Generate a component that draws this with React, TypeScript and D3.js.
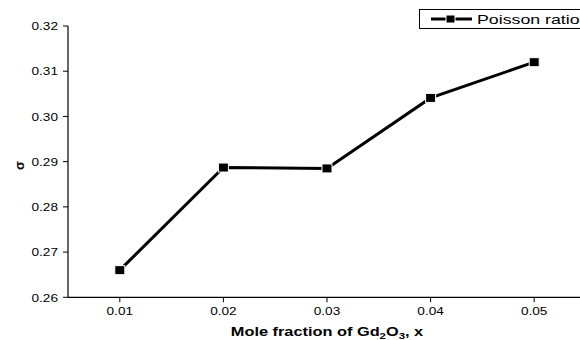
import React from "react";
import * as d3 from "d3";

const moleFractions = [0.01, 0.02, 0.03, 0.04, 0.05];
const poissonRatio = [0.266, 0.2887, 0.2885, 0.3041, 0.312];
const xTicks = [0.01, 0.02, 0.03, 0.04, 0.05];
const yTicks = [0.26, 0.27, 0.28, 0.29, 0.3, 0.31, 0.32];
const seriesName = "Poisson ratio";

const W = 580;
const H = 340;
const FONT = "'Liberation Sans', Arial, sans-serif";

export default function App() {
  const x = d3.scaleLinear().domain([0.005, 0.055]).range([68, 586]);
  const y = d3.scaleLinear().domain([0.26, 0.32]).range([297.3, 26]);
  const pts = moleFractions.map((m, i) => [x(m), y(poissonRatio[i])] as [number, number]);
  const line = d3.line()(pts) || "";
  const mw = 10;
  const mh = 9;
  const fmt = d3.format(".2f");

  return (
    <svg
      width={W}
      height={H}
      style={{ position: "absolute", left: 0, top: 0, background: "#fff" }}
      fontFamily={FONT}
    >
      {/* axes */}
      <line x1={68} x2={68} y1={y(0.32)} y2={y(0.26)} stroke="#000" strokeWidth={1.2} />
      <line x1={68} x2={W} y1={y(0.26)} y2={y(0.26)} stroke="#000" strokeWidth={1.2} />
      {yTicks.map((t) => (
        <g key={"y" + t}>
          <line x1={63} x2={68} y1={y(t)} y2={y(t)} stroke="#000" strokeWidth={1} />
          <text
            x={58}
            y={y(t) + 4.2}
            textAnchor="end"
            fontSize={11}
            fill="#000"
            textLength={26.5}
            lengthAdjust="spacingAndGlyphs"
          >
            {fmt(t)}
          </text>
        </g>
      ))}
      {xTicks.map((t) => (
        <g key={"x" + t}>
          <line x1={x(t)} x2={x(t)} y1={y(0.26)} y2={y(0.26) + 5} stroke="#000" strokeWidth={1} />
          <text
            x={x(t)}
            y={315}
            textAnchor="middle"
            fontSize={11}
            fill="#000"
            textLength={26.5}
            lengthAdjust="spacingAndGlyphs"
          >
            {fmt(t)}
          </text>
        </g>
      ))}
      {/* axis titles */}
      <text
        transform={`translate(24,${(y(0.32) + y(0.26)) / 2 + 4}) rotate(-90)`}
        textAnchor="middle"
        fontSize={13}
        fontWeight="bold"
      >
        σ
      </text>
      <text
        transform="translate(327,335.5) scale(1.34,1)"
        textAnchor="middle"
        fontSize={12.2}
        fontWeight="bold"
      >
        Mole fraction of Gd
        <tspan fontSize={8.5} dy={3.5}>2</tspan>
        <tspan dy={-3.5}>O</tspan>
        <tspan fontSize={8.5} dy={3.5}>3</tspan>
        <tspan dy={-3.5}>, x</tspan>
      </text>
      {/* series */}
      <path d={line} fill="none" stroke="#000" strokeWidth={3} />
      {pts.map(([px, py], i) => (
        <rect
          key={i}
          x={px - mw / 2}
          y={py - mh / 2}
          width={mw}
          height={mh}
          fill="#000"
          stroke="#fff"
          strokeWidth={1}
        />
      ))}
      {/* legend */}
      <rect x={419.5} y={9.5} width={170} height={19} fill="#fff" stroke="#000" strokeWidth={1} />
      <line x1={431} x2={472} y1={19} y2={19} stroke="#000" strokeWidth={3} />
      <rect x={450.5 - 4.5} y={19 - 4} width={9} height={8} fill="#000" stroke="#fff" strokeWidth={1} />
      <text
        transform="translate(477,24.3) scale(1.42,1)"
        fontSize={12.5}
        fill="#000"
      >
        {seriesName}
      </text>
    </svg>
  );
}
